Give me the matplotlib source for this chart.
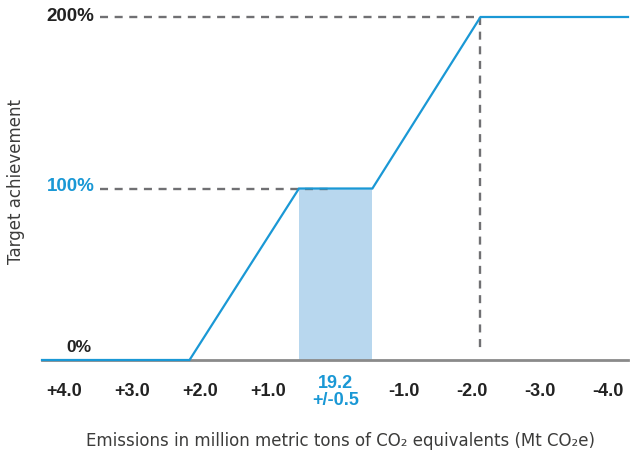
import matplotlib.pyplot as plt

plt.rcParams['font.family'] = ['Liberation Sans', 'DejaVu Sans']

# Deviation from the 19.2 Mt target (positive = more emissions)
tick_pos = [4, 3, 2, 1, 0, -1, -2, -3, -4]
tick_labels = ['+4.0', '+3.0', '+2.0', '+1.0', '19.2\n+/-0.5', '-1.0', '-2.0', '-3.0', '-4.0']

# Payout curve breakpoints
curve_x = [4.32, 2.15, 0.54, -0.54, -2.13, -4.3]
curve_y = [0, 0, 100, 100, 200, 200]

band_lo, band_hi = -0.54, 0.54

BLUE = '#1a98d5'
BAND = '#b8d7ee'
DASH = '#707073'
DARK = '#222222'
DASHES = (0, (3.4, 2.8))

fig = plt.figure(figsize=(6.31, 4.54), dpi=100)
ax = fig.add_axes([42 / 631, 94 / 454, 586 / 631, 343 / 454])

ax.axvspan(band_hi, band_lo, ymin=0, ymax=curve_y[2] / 200, color=BAND, lw=0, zorder=1)

# reference lines to the 100% and 200% levels
ax.plot([3.47, 0.09], [100, 100], ls=DASHES, color=DASH, lw=1.7, zorder=2)
ax.plot([3.47, curve_x[4]], [200, 200], ls=DASHES, color=DASH, lw=1.7, zorder=2,
        clip_on=False)
ax.plot([curve_x[4], curve_x[4]], [200, 5], ls=DASHES, color=DASH, lw=1.7, zorder=2,
        clip_on=False)

ax.plot(curve_x, curve_y, color=BLUE, lw=1.6, zorder=3, clip_on=False,
        solid_joinstyle='miter')

ax.set_xlim(4.32, -4.3)
ax.set_ylim(0, 200)

for s in ['top', 'right', 'left']:
    ax.spines[s].set_visible(False)
ax.spines['bottom'].set_color('#8a8a8a')
ax.spines['bottom'].set_linewidth(2)
ax.spines['bottom'].set_zorder(2)

ax.set_yticks([])
ax.set_xticks(tick_pos)
ax.set_xticklabels(tick_labels, fontsize=13, fontweight='bold', color=DARK)
ax.tick_params(axis='x', length=0, pad=23)
for lbl in ax.get_xticklabels():
    lbl.set_verticalalignment('center')
    if '19.2' in lbl.get_text():
        lbl.set_color(BLUE)
        lbl.set_linespacing(1.0)

# level labels
ax.text(3.55, 200.5, '200%', ha='right', va='center', fontsize=13.5, fontweight='bold',
        color=DARK)
ax.text(3.55, 101, '100%', ha='right', va='center', fontsize=13.5, fontweight='bold',
        color=BLUE)
ax.text(3.77, 7, '0%', ha='center', va='center', fontsize=12.5, fontweight='bold',
        color=DARK)

fig.text(16 / 631, 1 - 182 / 454, 'Target achievement', rotation=90, ha='center',
         va='center', fontsize=12, color='#3c3c3b', family='DejaVu Sans')
fig.text(340 / 631, 1 - 441 / 454,
         'Emissions in million metric tons of CO\u2082 equivalents (Mt CO\u2082e)',
         ha='center', va='center', fontsize=12, color='#3c3c3b', family='DejaVu Sans')

fig.savefig('out.png', dpi=100)
